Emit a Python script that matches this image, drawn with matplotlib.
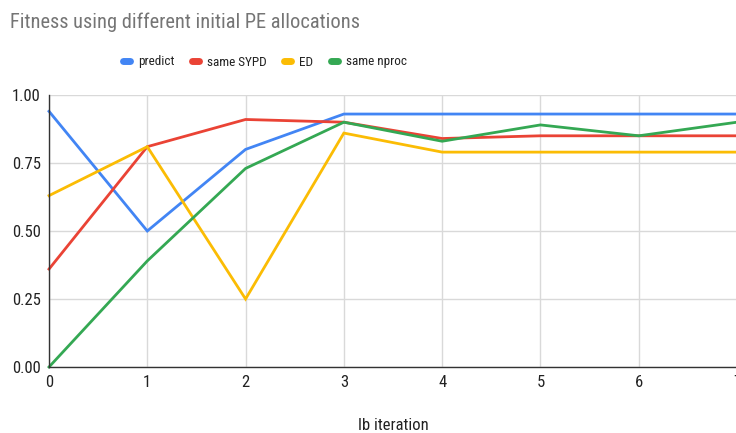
import matplotlib
matplotlib.use("Agg")
import matplotlib.pyplot as plt

plt.rcParams["font.family"] = ["Roboto Condensed", "Roboto", "DejaVu Sans"]

iterations = [0, 1, 2, 3, 4, 5, 6, 7]
predict = [0.94, 0.50, 0.80, 0.93, 0.93, 0.93, 0.93, 0.93]
same_sypd = [0.36, 0.81, 0.91, 0.90, 0.84, 0.85, 0.85, 0.85]
ed = [0.63, 0.81, 0.25, 0.86, 0.79, 0.79, 0.79, 0.79]
same_nproc = [0.00, 0.39, 0.73, 0.90, 0.83, 0.89, 0.85, 0.90]

series = [
    ("predict", predict, "#4285F4"),
    ("same SYPD", same_sypd, "#EA4335"),
    ("ED", ed, "#FBBC04"),
    ("same nproc", same_nproc, "#34A853"),
]

fig = plt.figure(figsize=(7.36, 4.33), dpi=100)
ax = fig.add_axes([49 / 736, 1 - 367 / 433, 688 / 736, 272 / 433])

for name, vals, col in series:
    ax.plot(iterations, vals, color=col, lw=2, label=name, solid_joinstyle="miter", clip_on=False)

ax.set_xlim(0, 7)
ax.set_ylim(0, 1)
ax.set_xticks(iterations)
ax.set_yticks([0, 0.25, 0.5, 0.75, 1.0])
ax.set_yticklabels(["0.00", "0.25", "0.50", "0.75", "1.00"])
ax.grid(True, color="#d9d9d9", lw=1)
ax.set_axisbelow(True)
for side in ("top", "right"):
    ax.spines[side].set_visible(False)
for side in ("left", "bottom"):
    ax.spines[side].set_color("#333333")
    ax.spines[side].set_linewidth(1)
ax.tick_params(length=0, labelsize=12, labelcolor="#222222", pad=6)
ax.set_xlabel("lb iteration", fontsize=12, color="#222222", labelpad=20)

fig.text(10 / 736, 1 - 22 / 433, "Fitness using different initial PE allocations",
         fontsize=14.7, color="#757575", va="center", ha="left")

leg = fig.legend(loc="center", bbox_to_anchor=(265 / 736, 1 - 62 / 433), ncol=4,
                 frameon=False, fontsize=9.5, handlelength=0.55, handletextpad=0.6,
                 columnspacing=1.3)
for line in leg.get_lines():
    line.set_linewidth(5)
    line.set_solid_capstyle("round")
for t in leg.get_texts():
    t.set_color("#222222")

fig.savefig("out.png", dpi=100)
